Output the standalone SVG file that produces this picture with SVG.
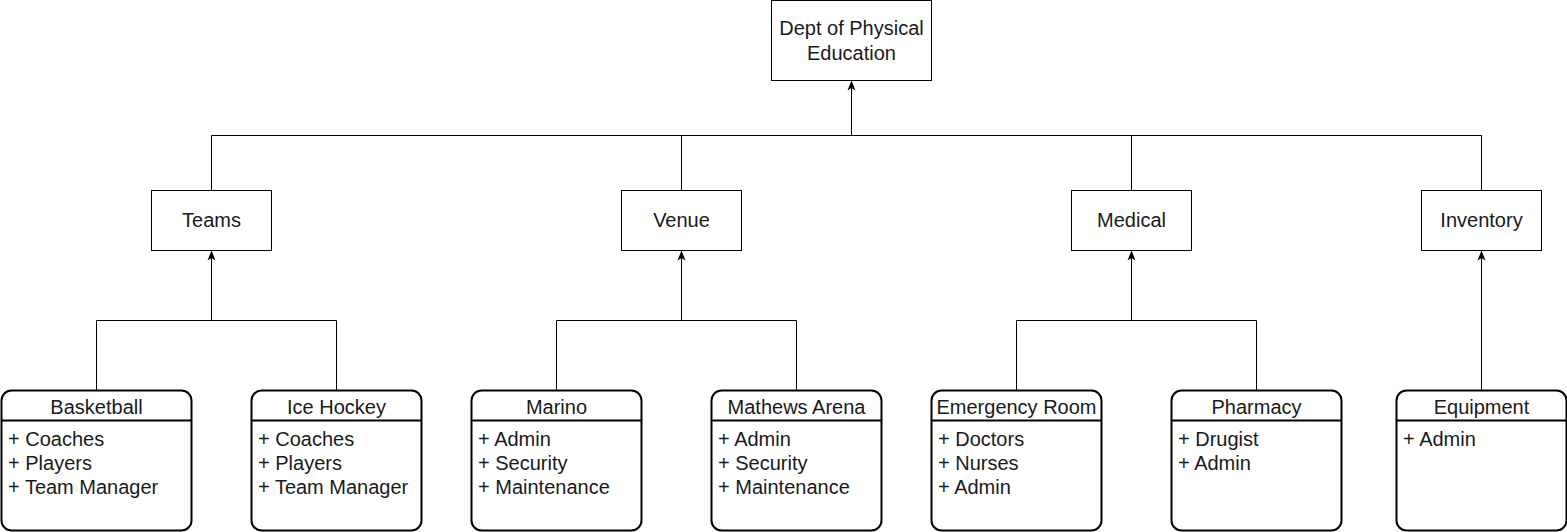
<svg xmlns="http://www.w3.org/2000/svg" width="1567" height="532" viewBox="0 0 1567 532">
<style>
.box{fill:#fff;stroke:#000;stroke-width:1}
.lane{fill:#fff;stroke:#000;stroke-width:2}
.hd{stroke:#000;stroke-width:2}
.t{font-family:"Liberation Sans",Arial,sans-serif;font-size:20px;fill:#1a1a1a}
.c{text-anchor:middle}
.ln{fill:none;stroke:#000;stroke-width:1}
</style>
<defs>
<marker id="ah" viewBox="0 0 10 10" refX="9" refY="5" markerWidth="10" markerHeight="10" markerUnits="userSpaceOnUse" orient="auto">
<path d="M0,1 L10,5 L0,9 L2.5,5 Z" fill="#000"/>
</marker>
</defs>
<rect width="1567" height="532" fill="#fff"/>
<g id="connectors">
<path class="ln" d="M211.5,190.5 V135.5 H1481.5 V190.5" />
<path class="ln" d="M681.5,190.5 V135.5 M1131.5,190.5 V135.5"/>
<path class="ln" d="M851.5,135.5 V81.5" marker-end="url(#ah)"/>
<path class="ln" d="M96.5,390 V320.5 H336.5 V390"/>
<path class="ln" d="M211.5,320.5 V251.5" marker-end="url(#ah)"/>
<path class="ln" d="M556.5,390 V320.5 H796.5 V390"/>
<path class="ln" d="M681.5,320.5 V251.5" marker-end="url(#ah)"/>
<path class="ln" d="M1016.5,390 V320.5 H1256.5 V390"/>
<path class="ln" d="M1131.5,320.5 V251.5" marker-end="url(#ah)"/>
<path class="ln" d="M1481.5,390 V251.5" marker-end="url(#ah)"/>
</g>
<g id="dept">
<rect class="box" x="771.5" y="0.5" width="160" height="80"/>
<text class="t c" x="851.5" y="35">Dept of Physical</text>
<text class="t c" x="851.5" y="60">Education</text>
</g>
<g id="teams"><rect class="box" x="151.5" y="190.5" width="120" height="60"/><text class="t c" x="211.5" y="227">Teams</text></g>
<g id="venue"><rect class="box" x="621.5" y="190.5" width="120" height="60"/><text class="t c" x="681.5" y="227">Venue</text></g>
<g id="medical"><rect class="box" x="1071.5" y="190.5" width="120" height="60"/><text class="t c" x="1131.5" y="227">Medical</text></g>
<g id="inventory"><rect class="box" x="1421.5" y="190.5" width="120" height="60"/><text class="t c" x="1481.5" y="227">Inventory</text></g>

<g id="basketball">
<rect class="lane" x="1.5" y="390.5" width="190" height="140" rx="10"/>
<line class="hd" x1="1.5" y1="420.5" x2="191.5" y2="420.5"/>
<text class="t c" x="96.5" y="414">Basketball</text>
<text class="t" x="8" y="446">+ Coaches</text>
<text class="t" x="8" y="470">+ Players</text>
<text class="t" x="8" y="494">+ Team Manager</text>
</g>
<g id="icehockey">
<rect class="lane" x="251.5" y="390.5" width="170" height="140" rx="10"/>
<line class="hd" x1="251.5" y1="420.5" x2="421.5" y2="420.5"/>
<text class="t c" x="336.5" y="414">Ice Hockey</text>
<text class="t" x="258" y="446">+ Coaches</text>
<text class="t" x="258" y="470">+ Players</text>
<text class="t" x="258" y="494">+ Team Manager</text>
</g>
<g id="marino">
<rect class="lane" x="471.5" y="390.5" width="170" height="140" rx="10"/>
<line class="hd" x1="471.5" y1="420.5" x2="641.5" y2="420.5"/>
<text class="t c" x="556.5" y="414">Marino</text>
<text class="t" x="478" y="446">+ Admin</text>
<text class="t" x="478" y="470">+ Security</text>
<text class="t" x="478" y="494">+ Maintenance</text>
</g>
<g id="mathews">
<rect class="lane" x="711.5" y="390.5" width="170" height="140" rx="10"/>
<line class="hd" x1="711.5" y1="420.5" x2="881.5" y2="420.5"/>
<text class="t c" x="796.5" y="414">Mathews Arena</text>
<text class="t" x="718" y="446">+ Admin</text>
<text class="t" x="718" y="470">+ Security</text>
<text class="t" x="718" y="494">+ Maintenance</text>
</g>
<g id="er">
<rect class="lane" x="931.5" y="390.5" width="170" height="140" rx="10"/>
<line class="hd" x1="931.5" y1="420.5" x2="1101.5" y2="420.5"/>
<text class="t c" x="1016.5" y="414">Emergency Room</text>
<text class="t" x="938" y="446">+ Doctors</text>
<text class="t" x="938" y="470">+ Nurses</text>
<text class="t" x="938" y="494">+ Admin</text>
</g>
<g id="pharmacy">
<rect class="lane" x="1171.5" y="390.5" width="170" height="140" rx="10"/>
<line class="hd" x1="1171.5" y1="420.5" x2="1341.5" y2="420.5"/>
<text class="t c" x="1256.5" y="414">Pharmacy</text>
<text class="t" x="1178" y="446">+ Drugist</text>
<text class="t" x="1178" y="470">+ Admin</text>
</g>
<g id="equipment">
<rect class="lane" x="1396.5" y="390.5" width="170" height="140" rx="10"/>
<line class="hd" x1="1396.5" y1="420.5" x2="1566.5" y2="420.5"/>
<text class="t c" x="1481.5" y="414">Equipment</text>
<text class="t" x="1403" y="446">+ Admin</text>
</g>
</svg>
